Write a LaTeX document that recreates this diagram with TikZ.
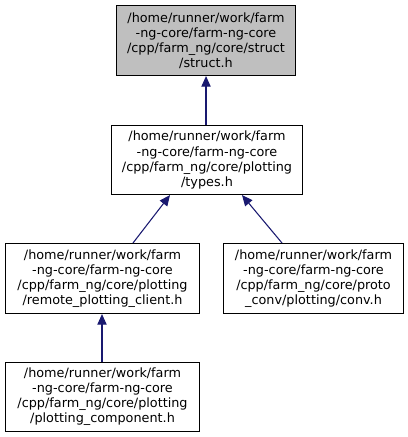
\documentclass[tikz,border=0pt]{standalone}
\usepackage{fontspec}
\setmainfont{DejaVu Sans}
\usetikzlibrary{arrows.meta}
\definecolor{edgeblue}{HTML}{191970}
\definecolor{boxgray}{HTML}{BFBFBF}
\definecolor{boxline}{HTML}{000000}
\begin{document}
\begin{tikzpicture}[x=0.75pt,y=-0.75pt,
  filebox/.style={draw=boxline, line width=0.8pt, fill=white, align=center,
    font=\fontsize{9.6pt}{11.3pt}\selectfont, inner sep=0pt, anchor=north west},
  dep/.style={draw=edgeblue, line width=0.8pt, -{Triangle[length=8pt,width=7pt]}, color=edgeblue}]
\useasboundingbox (0,0) rectangle (408,437);
\node[filebox, fill=boxgray, minimum width=179*0.75pt, minimum height=70*0.75pt] (s) at (116,5)
  {/home/runner/work/farm\\-ng-core/farm-ng-core\\/cpp/farm\_ng/core/struct\\/struct.h};
\node[filebox, minimum width=191*0.75pt, minimum height=69*0.75pt] (t) at (111,125)
  {/home/runner/work/farm\\-ng-core/farm-ng-core\\/cpp/farm\_ng/core/plotting\\/types.h};
\node[filebox, minimum width=194*0.75pt, minimum height=70*0.75pt] (r) at (5,243)
  {/home/runner/work/farm\\-ng-core/farm-ng-core\\/cpp/farm\_ng/core/plotting\\/remote\_plotting\_client.h};
\node[filebox, minimum width=180*0.75pt, minimum height=70*0.75pt] (c) at (223,243)
  {/home/runner/work/farm\\-ng-core/farm-ng-core\\/cpp/farm\_ng/core/proto\\\_conv/plotting/conv.h};
\node[filebox, minimum width=194*0.75pt, minimum height=69*0.75pt] (p) at (5,362)
  {/home/runner/work/farm\\-ng-core/farm-ng-core\\/cpp/farm\_ng/core/plotting\\/plotting\_component.h};
\draw[dep] (t.north -| s.south) -- (s.south);
\coordinate (rt) at (133,243);
\coordinate (tb1) at (170,194);
\coordinate (ct) at (282,243);
\coordinate (tb2) at (242,194);
\draw[dep] (r.north -| rt) -- (t.south -| tb1);
\draw[dep] (c.north -| ct) -- (t.south -| tb2);
\draw[dep] (p.north -| 102,0) -- (r.south -| 102,0);
\end{tikzpicture}
\end{document}
